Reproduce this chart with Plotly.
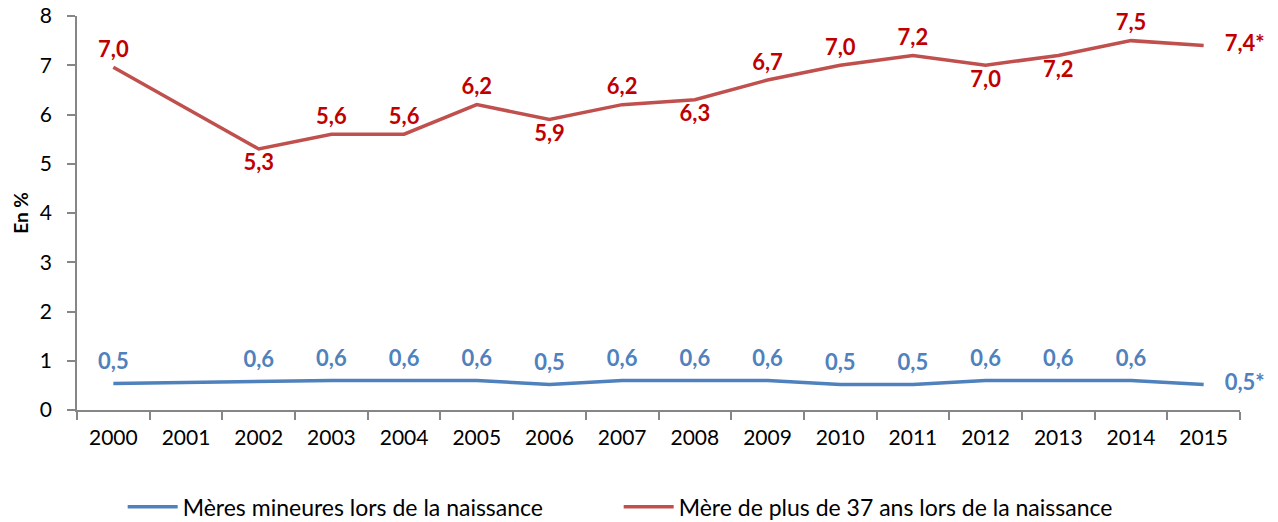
import plotly.graph_objects as go

years = [str(y) for y in range(2000, 2016)]
mineures = [0.54, None, 0.59, 0.6, 0.6, 0.6, 0.52, 0.6, 0.6, 0.6, 0.52, 0.52, 0.6, 0.6, 0.6, 0.52]
plus37 = [6.96, None, 5.3, 5.6, 5.6, 6.2, 5.9, 6.2, 6.3, 6.7, 7.0, 7.2, 7.0, 7.2, 7.5, 7.4]
provisional = [False] * 15 + [True]

pos_mineures = ["top center"] * 15 + ["middle right"]
pos_plus37 = ["top center", "top center", "bottom center", "top center", "top center", "top center",
              "bottom center", "top center", "bottom center", "top center", "top center", "top center",
              "bottom center", "bottom center", "top center", "middle right"]

name_mineures = "Mères mineures lors de la naissance"
name_plus37 = "Mère de plus de 37 ans lors de la naissance"


def fmt(vals):
    out = []
    for v, p in zip(vals, provisional):
        if v is None:
            out.append("")
        else:
            out.append(f"{v:.1f}".replace(".", ",") + ("*" if p else ""))
    return out


hidden_marker_line = dict(width=0, color="rgba(0,0,0,0)")

fig = go.Figure()
fig.add_trace(go.Scatter(
    x=years, y=mineures, name=name_mineures, mode="lines+markers+text",
    connectgaps=True, line=dict(color="#4F81BD", width=3.5),
    marker=dict(size=[12] * 15 + [32], color="rgba(0,0,0,0)", line=hidden_marker_line),
    text=fmt(mineures), textposition=pos_mineures,
    textfont=dict(family="Lato", size=22, color="#4F81BD", weight="bold"),
    cliponaxis=False, hoverinfo="x+y",
))
fig.add_trace(go.Scatter(
    x=years, y=plus37, name=name_plus37, mode="lines+markers+text",
    connectgaps=True, line=dict(color="#C0504D", width=3.5),
    marker=dict(size=[6] * 15 + [32], color="rgba(0,0,0,0)", line=hidden_marker_line),
    text=fmt(plus37), textposition=pos_plus37,
    textfont=dict(family="Lato", size=22, color="#C00000", weight="bold"),
    cliponaxis=False, hoverinfo="x+y",
))

fig.update_layout(
    width=1278, height=522,
    margin=dict(l=77, r=38, t=16, b=112, autoexpand=False),
    plot_bgcolor="white", paper_bgcolor="white",
    font=dict(family="Lato", color="black"),
    showlegend=True,
    legend=dict(
        orientation="h", xref="container", yref="container",
        x=0.096, xanchor="left", y=0.029, yanchor="middle",
        font=dict(family="Lato", size=23, color="black"),
        entrywidth=431, entrywidthmode="pixels",
        itemwidth=50,
    ),
)
fig.update_xaxes(
    type="category", range=[-0.5, 15.5],
    showline=True, linecolor="#868686", linewidth=1.5,
    ticks="outside", ticklen=8, tickcolor="#868686", tickwidth=1.5,
    tickson="boundaries", showgrid=False, ticklabelstandoff=8,
    tickfont=dict(family="Lato", size=21, color="black"),
)
fig.update_yaxes(
    range=[0, 8], dtick=1, showline=True, linecolor="#868686", linewidth=1.5,
    ticks="outside", ticklen=8, tickcolor="#868686", tickwidth=1.5,
    showgrid=False, zeroline=False, ticklabelstandoff=11,
    tickfont=dict(family="Lato", size=21, color="black"),
    title=dict(text="<b>En %</b>", font=dict(family="Lato", size=19, color="black"), standoff=6),
)

fig.write_html("out.html", config={"displayModeBar": False},
               post_script="document.body.style.margin='0';")
